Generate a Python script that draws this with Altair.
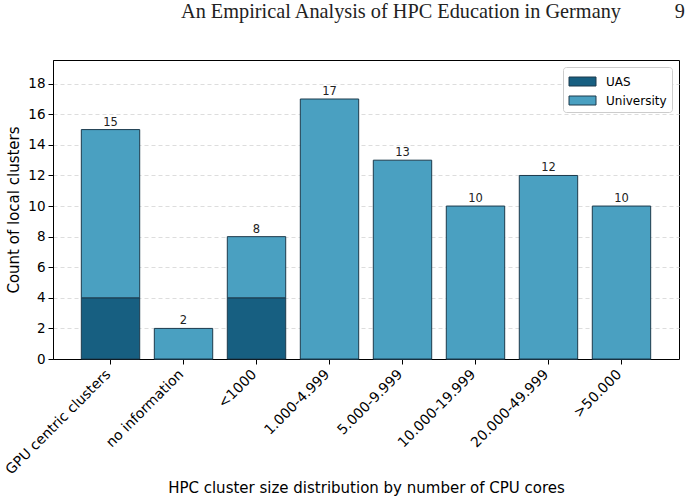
import altair as alt
import pandas as pd

categories = ["GPU centric clusters", "no information", "<1000", "1.000-4.999",
              "5.000-9.999", "10.000-19.999", "20.000-49.999", ">50.000"]
uas = [4, 0, 4, 0, 0, 0, 0, 0]
university = [11, 2, 4, 17, 13, 10, 12, 10]
groups = ["UAS", "University"]
colors = ["#175f81", "#4aa0c1"]
y_ticks = [0, 2, 4, 6, 8, 10, 12, 14, 16, 18]

rows = []
for i, c in enumerate(categories):
    rows.append({"cat": c, "group": "UAS", "order": 0, "value": uas[i]})
    rows.append({"cat": c, "group": "University", "order": 1, "value": university[i]})
df = pd.DataFrame(rows)
totals = pd.DataFrame({"cat": categories, "total": [a + b for a, b in zip(uas, university)]})

xscale = alt.Scale(domain=categories, paddingInner=0.2, paddingOuter=0.388)
yscale = alt.Scale(domain=[0, 19.55], nice=False)

x_axis = alt.Axis(title="HPC cluster size distribution by number of CPU cores",
                  labelAngle=-45, labelAlign="right", labelBaseline="top",
                  labelFontSize=14, labelOffset=-7, titleY=128, titleBaseline="middle",
                  grid=False)
y_axis = alt.Axis(title="Count of local clusters", values=y_ticks,
                  labelOverlap=False, labelFontSize=13.5,
                  grid=True, gridDash=[4, 3], gridColor="#dddddd",
                  titlePadding=6)

bars = alt.Chart(df).mark_bar(stroke="#1c3a4c", strokeWidth=1).encode(
    x=alt.X("cat:N", sort=categories, scale=xscale, axis=x_axis),
    y=alt.Y("value:Q", stack="zero", scale=yscale, axis=y_axis),
    color=alt.Color("group:N", scale=alt.Scale(domain=groups, range=colors),
                    legend=alt.Legend(title=None, orient="top-right", offset=7,
                                      strokeColor="#cccccc", padding=5, cornerRadius=3,
                                      fillColor="white",
                                      symbolType="M-1.5,-0.5L1.5,-0.5L1.5,0.5L-1.5,0.5Z",
                                      symbolSize=324, symbolStrokeColor="#1c3a4c",
                                      symbolStrokeWidth=1, labelFontSize=12,
                                      symbolOffset=5,
                                      rowPadding=3, labelOffset=14)),
    order=alt.Order("order:Q"),
)

labels = alt.Chart(totals).mark_text(baseline="bottom", dy=-2, fontSize=11.5,
                                     color="#222222").encode(
    x=alt.X("cat:N", sort=categories, scale=xscale, axis=x_axis),
    y=alt.Y("total:Q", scale=yscale, axis=y_axis),
    text="total:Q",
)

header = alt.Chart(pd.DataFrame({"t": ["An Empirical Analysis of HPC Education in Germany"]})).mark_text(
    font="Liberation Serif", fontSize=20.3, align="left", baseline="alphabetic", color="#222222"
).encode(x=alt.value(128), y=alt.value(-42), text="t:N")

page = alt.Chart(pd.DataFrame({"t": ["9"]})).mark_text(
    font="Liberation Serif", fontSize=20.3, align="right", baseline="alphabetic", color="#222222"
).encode(x=alt.value(632), y=alt.value(-42), text="t:N")

chart = alt.layer(bars, labels, header, page).properties(
    width=626, height=299,
    autosize=alt.AutoSizeParams(type="none"),
    padding={"left": 53, "top": 60, "right": 12, "bottom": 142},
).configure(font="DejaVu Sans").configure_axis(
    titleFontSize=15, titleFontWeight="normal",
    labelColor="black", titleColor="black", tickColor="black",
    domainColor="black", tickSize=5, labelPadding=3,
).configure_view(stroke="black", strokeWidth=1)

chart.save("out.html", embed_options={"renderer": "svg", "actions": False})
